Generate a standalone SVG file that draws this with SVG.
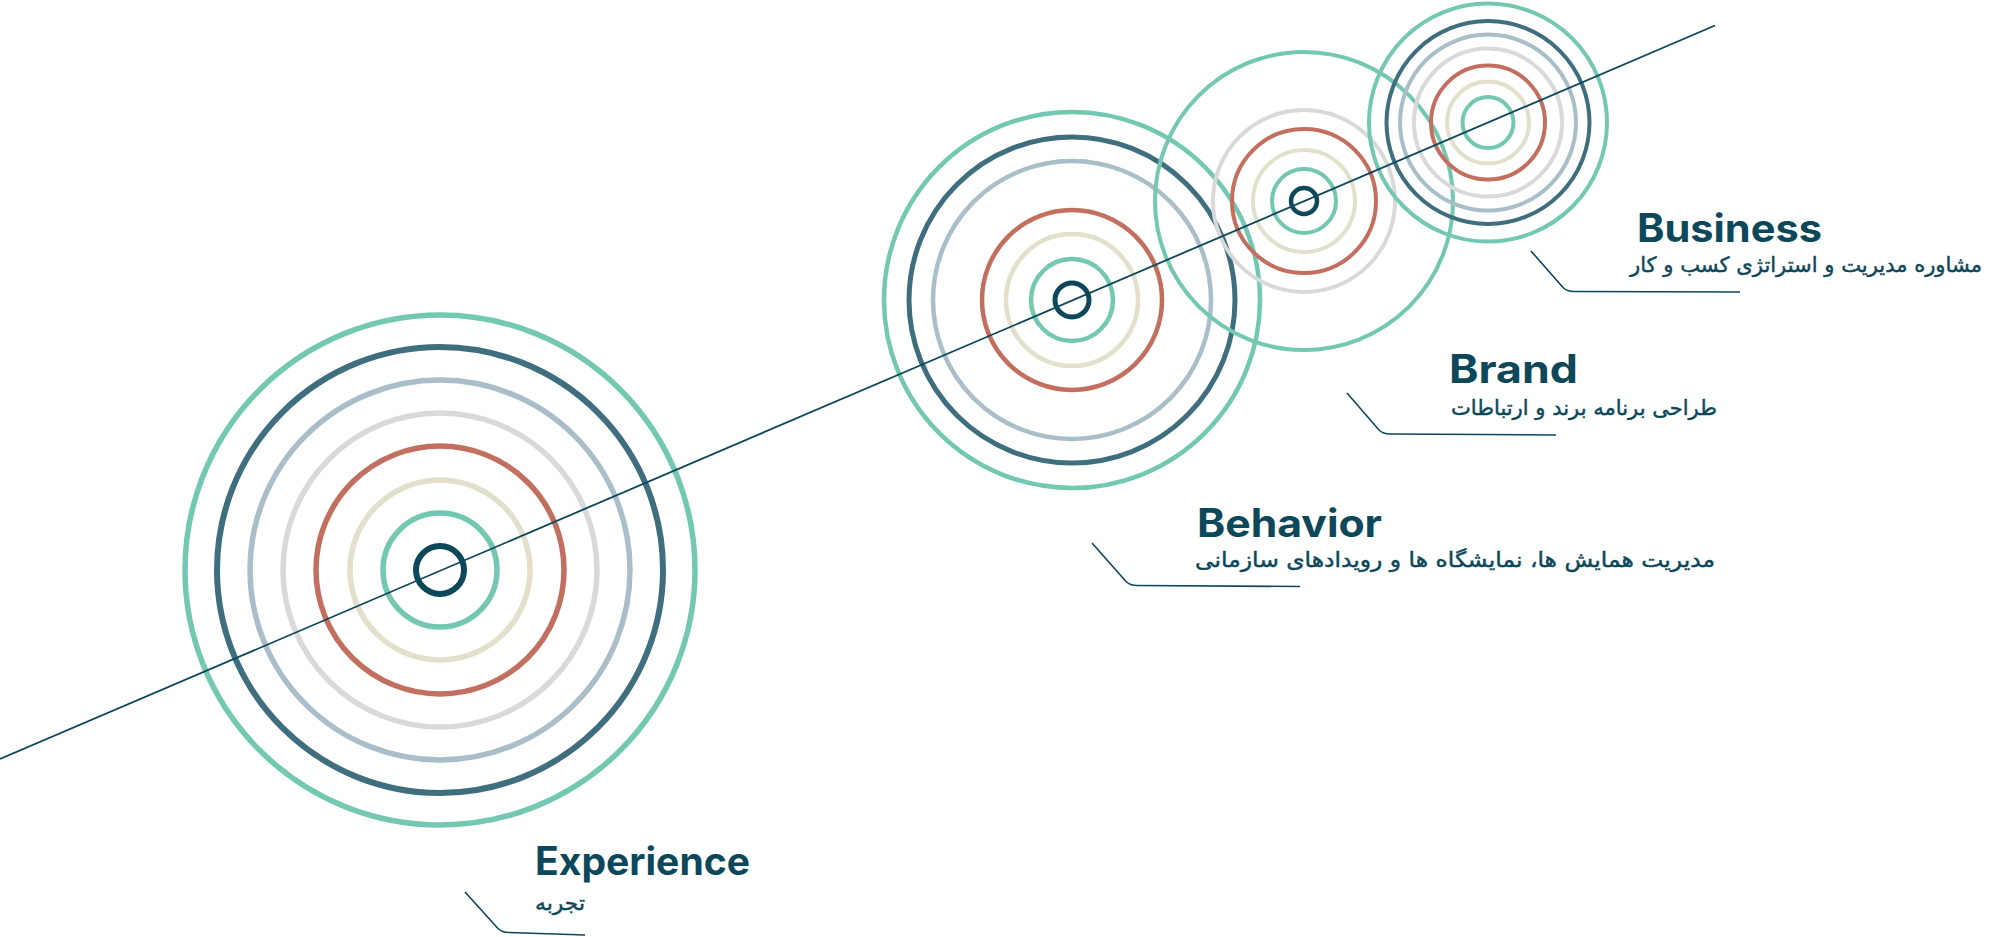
<svg xmlns="http://www.w3.org/2000/svg" width="2000" height="937" viewBox="0 0 2000 937">
<style>
circle{fill:none}
.t{stroke:#72c8b0}
.d{stroke:#3f6f7f}
.gb{stroke:#a9bec8}
.lg{stroke:#d9d9d9}
.r{stroke:#c36f5f}
.b{stroke:#e2dfcb}
.c{stroke:#0c475a}
.title{font-family:Inter,"Open Sans","Liberation Sans",sans-serif;font-weight:700;font-size:39px;fill:#0c475a}
.fa{font-family:"DejaVu Sans","Noto Sans",sans-serif;font-size:21px;fill:#0c475a;stroke:#0c475a;stroke-width:0.45}
.lead{fill:none;stroke:#0c475a;stroke-width:1.6}
</style>
<rect width="2000" height="937" fill="#ffffff"/>
<g id="node-experience">
<g stroke-width="5.5">
<circle class="t" cx="440" cy="570" r="255"/>
<circle class="d" cx="440" cy="570" r="223" stroke-width="6"/>
<circle class="gb" cx="440" cy="570" r="190"/>
<circle class="lg" cx="440" cy="570" r="157"/>
<circle class="r" cx="440" cy="570" r="124"/>
<circle class="b" cx="440" cy="570" r="90"/>
<circle class="t" cx="440" cy="570" r="57"/>
<circle class="c" cx="440" cy="570" r="24" stroke-width="6"/>
</g>
<text class="title" x="535" y="875" textLength="215" lengthAdjust="spacingAndGlyphs">Experience</text>
<text class="fa" x="585" y="910" text-anchor="end" textLength="50" lengthAdjust="spacingAndGlyphs">تجربه</text>
</g>
<g id="node-behavior">
<g stroke-width="4.5">
<circle class="t" cx="1072" cy="300" r="188"/>
<circle class="d" cx="1072" cy="300" r="163" stroke-width="5"/>
<circle class="gb" cx="1072" cy="300" r="139"/>
<circle class="r" cx="1072" cy="300" r="90"/>
<circle class="b" cx="1072" cy="300" r="66"/>
<circle class="t" cx="1072" cy="300" r="41"/>
<circle class="c" cx="1072" cy="300" r="17" stroke-width="5"/>
</g>
<text class="title" x="1197" y="537" textLength="185" lengthAdjust="spacingAndGlyphs">Behavior</text>
<text class="fa" x="1715" y="567" text-anchor="end" textLength="520" lengthAdjust="spacingAndGlyphs">مدیریت همایش ها، نمایشگاه ها و رویدادهای سازمانی</text>
</g>
<g id="node-brand">
<g stroke-width="4">
<circle class="t" cx="1304" cy="201" r="149"/>
<circle class="lg" cx="1304" cy="201" r="91"/>
<circle class="r" cx="1304" cy="201" r="72"/>
<circle class="b" cx="1304" cy="201" r="51"/>
<circle class="t" cx="1304" cy="201" r="32"/>
<circle class="c" cx="1304" cy="201" r="13" stroke-width="4.5"/>
</g>
<text class="title" x="1449" y="383" textLength="129" lengthAdjust="spacingAndGlyphs">Brand</text>
<text class="fa" x="1717" y="415" text-anchor="end" textLength="266" lengthAdjust="spacingAndGlyphs">طراحی برنامه برند و ارتباطات</text>
</g>
<g id="node-business">
<g stroke-width="4">
<circle class="t" cx="1488" cy="122.6" r="119"/>
<circle class="d" cx="1488" cy="122.6" r="101.5"/>
<circle class="gb" cx="1488" cy="122.6" r="88"/>
<circle class="lg" cx="1488" cy="122.6" r="74"/>
<circle class="r" cx="1488" cy="122.6" r="57"/>
<circle class="b" cx="1488" cy="122.6" r="41"/>
<circle class="t" cx="1488" cy="122.6" r="25.5"/>
</g>
<text class="title" x="1637" y="242" textLength="185" lengthAdjust="spacingAndGlyphs">Business</text>
<text class="fa" x="1982" y="272" text-anchor="end" textLength="352" lengthAdjust="spacingAndGlyphs">مشاوره مدیریت و استراتژی کسب و کار</text>
</g>
<g id="connectors">
<line x1="0" y1="759" x2="1715" y2="25.5" stroke="#0c475a" stroke-width="1.8"/>
<path class="lead" d="M1531 251 L1563 287.5 Q1567 291.5 1574 291.5 L1740 292"/>
<path class="lead" d="M1347 393 L1379 430 Q1383 434 1390 434 L1556 435"/>
<path class="lead" d="M1092 543 L1126 581.5 Q1130 585.5 1137 585.5 L1300 586.5"/>
<path class="lead" d="M465 892 L498 928.5 Q502 932.5 509 932.5 L585 935"/>
</g>
</svg>
